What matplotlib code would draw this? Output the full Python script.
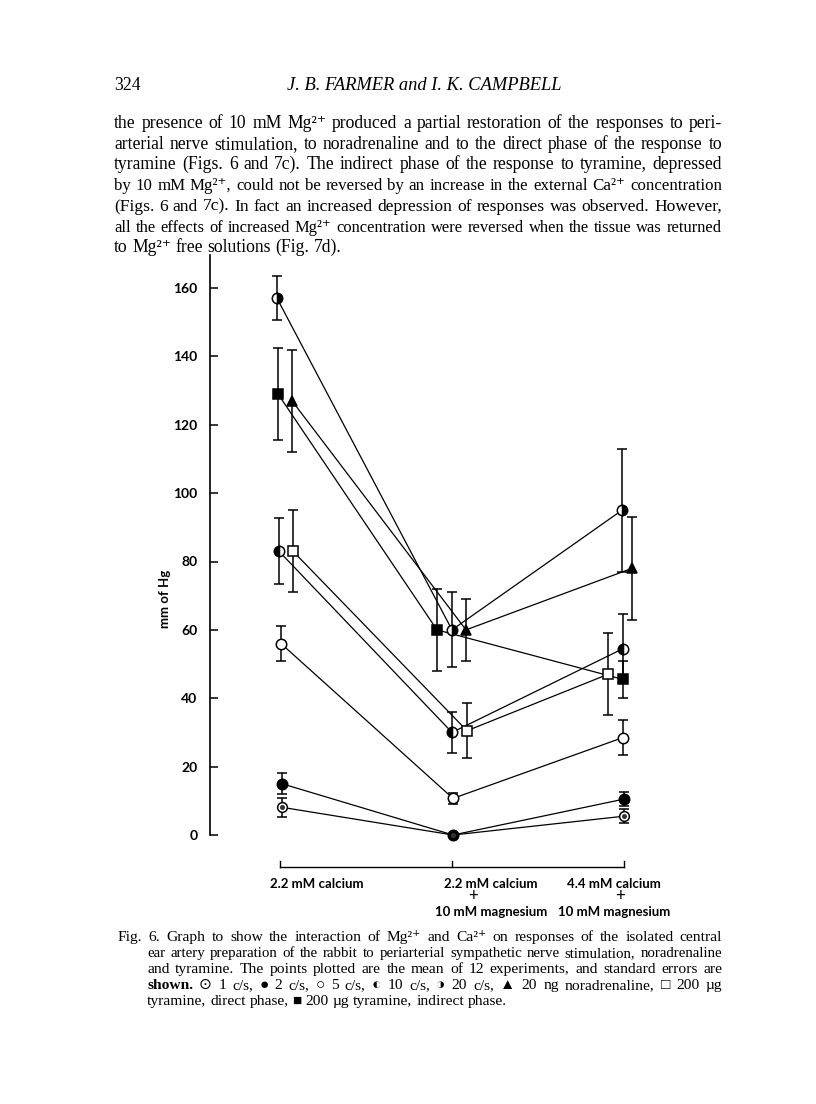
###############################################################################
# Fig. 6 page (Farmer & Campbell): Mg2+ / Ca2+ interaction on responses of the
# isolated ear artery, with the page text round it
###############################################################################
import numpy as np
import matplotlib
matplotlib.use('Agg')
import matplotlib.pyplot as plt

# ---- data (mm of Hg, mean and standard error) ---------------------------
conditions = ['2.2 mM calcium',
              '2.2 mM calcium\n+\n10 mM magnesium',
              '4.4 mM calcium\n+\n10 mM magnesium']
y_ticks = [0, 20, 40, 60, 80, 100, 120, 140, 160]

one_cs = [8.1, 0, 5.5]          # 1 c/s
one_cs_err = [2.8, 0, 2.0]
two_cs = [15.0, 0, 10.5]        # 2 c/s
two_cs_err = [3.0, 0, 2.0]
five_cs = [56.0, 10.7, 28.5]    # 5 c/s
five_cs_err = [5.0, 1.5, 5.0]
ten_cs = [83.0, 30.0, 54.5]     # 10 c/s
ten_cs_err = [9.7, 6.0, 10.0]
twenty_cs = [157.0, 60.0, 95.0]  # 20 c/s
twenty_cs_err = [6.5, 11.0, 18.0]
noradr = [127.0, 60.0, 78.0]    # 20 ng noradrenaline
noradr_err = [15.0, 9.0, 15.0]
tyr_direct = [83.0, 30.5, 47.0]  # 200 ug tyramine, direct phase
tyr_direct_err = [12.0, 8.0, 12.0]
tyr_indirect = [129.0, 60.0, 45.5]  # 200 ug tyramine, indirect phase
tyr_indirect_err = [13.5, 12.0, 5.5]

W, H = 816, 1104
PX_PER_GROUP = 172.0


def fx(px):
    return px / W


def fy(py):
    return 1 - py / H


fig = plt.figure(figsize=(W / 100, H / 100), dpi=100)
renderer = fig.canvas.get_renderer()

SERIF = ['Liberation Serif', 'DejaVu Serif']
SYMB = ['Liberation Serif', 'DejaVu Sans']
SANS = ['Lato', 'DejaVu Sans']


def natural_width(line, size, family):
    t = fig.text(0, 0, ' '.join(line.split()), fontsize=size, family=family)
    w = t.get_window_extent(renderer).width
    t.remove()
    return w


def fit_size(lines, width, family, base=10.0):
    # font size so that a normal-spaced line is about as wide as the column
    ratios = [width / natural_width(l, base, family) for l in lines]
    return base * float(np.median(ratios)) * 0.985


def text_line(line, x0, y, x1=None, size=11.5, family=SERIF, style='normal',
              bold_words=()):
    # draws one line word by word, stretched out to x1 when given (justified)
    if x1 is not None:
        # a line that is too long at this size gets a slightly smaller font
        size = min(size, size * (x1 - x0) / natural_width(line, size, family)
                   * 0.985)
    words = line.split()
    objs = []
    widths = []
    for w in words:
        t = fig.text(0, fy(y), w, fontsize=size, family=family, style=style,
                     weight='bold' if w in bold_words else 'normal',
                     va='baseline', ha='left')
        objs.append(t)
        widths.append(t.get_window_extent(renderer).width)
    if x1 is not None and len(words) > 1:
        gap = (x1 - x0 - sum(widths)) / (len(words) - 1)
    else:
        gap = size * 100 / 72 * 0.25
    x = x0
    for t, w in zip(objs, widths):
        t.set_x(fx(x))
        x += w + gap


# ---- page head and running text -----------------------------------------
LEFT, RIGHT = 114, 722
body = [
    'the presence of 10 mM Mg²⁺ produced a partial restoration of the responses to peri-',
    'arterial nerve stimulation, to noradrenaline and to the direct phase of the response to',
    'tyramine (Figs. 6 and 7c).  The indirect phase of the response to tyramine, depressed',
    'by 10 mM Mg²⁺, could not be reversed by an increase in the external Ca²⁺ concentration',
    '(Figs. 6 and 7c).  In fact an increased depression of responses was observed.  However,',
    'all the effects of increased Mg²⁺ concentration were reversed when the tissue was returned',
    'to Mg²⁺ free solutions (Fig. 7d).',
]
body_size = fit_size(body[:-1], RIGHT - LEFT, SERIF)

fig.text(fx(LEFT), fy(90), '324', fontsize=body_size, family=SERIF,
         va='baseline')
fig.text(fx(424), fy(90), 'J. B. FARMER and I. K. CAMPBELL',
         fontsize=body_size * 1.05, family=SERIF, style='italic',
         ha='center', va='baseline')

for i, line in enumerate(body):
    last = i == len(body) - 1
    text_line(line, LEFT, 128 + i * 20.7, None if last else RIGHT,
              size=body_size)

caption = [
    'Fig. 6.  Graph to show the interaction of Mg²⁺ and Ca²⁺ on responses of the isolated central',
    'ear artery preparation of the rabbit to periarterial sympathetic nerve stimulation, noradrenaline',
    'and tyramine.  The points plotted are the mean of 12 experiments, and standard errors are',
    'shown.  ⊙ 1 c/s, ● 2 c/s, ○ 5 c/s, ◐ 10 c/s, ◑ 20 c/s, ▲ 20 ng noradrenaline, □ 200 µg',
    'tyramine, direct phase, ■ 200 µg tyramine, indirect phase.',
]
cap_size = fit_size(caption[1:3], RIGHT - LEFT - 33, SYMB)
for i, line in enumerate(caption):
    x0 = LEFT + 4 if i == 0 else LEFT + 33
    last = i == len(caption) - 1
    text_line(line, x0, 941 + i * 16, None if last else RIGHT, size=cap_size,
              family=SYMB, bold_words=('shown.',))

# ---- chart ---------------------------------------------------------------
Y0_PX, Y160_PX = 835.0, 288.0
ppu = (Y0_PX - Y160_PX) / 160.0
ylo, yhi = -5, 170
ax_bottom = Y0_PX - ylo * ppu
ax_top = Y0_PX - yhi * ppu
G1_PX = 280.0
AX_L, AX_R = 210.0, 700.0
ax = fig.add_axes([fx(AX_L), fy(ax_bottom), (AX_R - AX_L) / W,
                   (ax_bottom - ax_top) / H])
ax.set_xlim((AX_L - G1_PX) / PX_PER_GROUP, (AX_R - G1_PX) / PX_PER_GROUP)
ax.set_ylim(ylo, yhi)
ax.patch.set_alpha(0)

groups = np.arange(len(conditions))

# sideways shift of each series inside a group (pixels)
series = [
    # values, errors, x shifts, marker style
    (twenty_cs, twenty_cs_err, [-3, 0, -2],
     dict(marker='o', fillstyle='right', markerfacecolor='black',
          markerfacecoloralt='white', ms=7.5)),
    (tyr_indirect, tyr_indirect_err, [-2, -15, -1],
     dict(marker='s', markerfacecolor='black', ms=7)),
    (noradr, noradr_err, [12, 14, 8],
     dict(marker='^', markerfacecolor='black', ms=7.5)),
    (ten_cs, ten_cs_err, [-1, 0, -1],
     dict(marker='o', fillstyle='left', markerfacecolor='black',
          markerfacecoloralt='white', ms=7.5)),
    (tyr_direct, tyr_direct_err, [13, 15, -16],
     dict(marker='s', markerfacecolor='white', ms=7)),
    (five_cs, five_cs_err, [1, 1, -1],
     dict(marker='o', markerfacecolor='white', ms=7.5)),
    (one_cs, one_cs_err, [2, 1, 0],
     dict(marker='o', markerfacecolor='white', ms=7)),
    (two_cs, two_cs_err, [2, 1, 0],
     dict(marker='o', markerfacecolor='black', ms=7.5)),
]

for vals, errs, shifts, style in series:
    xs = groups + np.array(shifts) / PX_PER_GROUP
    vals = np.array(vals)
    errs = np.array(errs)
    ax.plot(xs, vals, '-', color='black', lw=0.9, zorder=2, clip_on=False)
    keep = errs > 0
    ax.errorbar(xs[keep], vals[keep], yerr=errs[keep], fmt='none',
                ecolor='black', elinewidth=1.1, capsize=3.3, capthick=1.1,
                zorder=3, clip_on=False)
    ax.plot(xs, vals, linestyle='none', markeredgecolor='black',
            markeredgewidth=1.1, zorder=4, clip_on=False, **style)
    if style.get('ms') == 7 and style.get('marker') == 'o':
        # the dot in the middle of the 1 c/s circle
        ax.plot(xs, vals, linestyle='none', marker='o', ms=2.6,
                color='#333333', zorder=5, clip_on=False)

# axis: only the left one, with inward ticks
for side in ['top', 'right', 'bottom']:
    ax.spines[side].set_visible(False)
ax.spines['left'].set_bounds(0, (Y0_PX - 255) / ppu)
ax.spines['left'].set_linewidth(1.2)
ax.set_yticks(y_ticks)
ax.set_yticklabels([str(v) for v in y_ticks], fontsize=10, family=SANS,
                   weight='bold')
ax.tick_params(axis='y', direction='in', length=5.5, width=1.1, pad=9)
ax.set_xticks([])
fig.text(fx(165), fy(599), 'mm of Hg', rotation=90, fontsize=9.5,
         family=SANS, weight='bold', ha='center', va='center')

# bracket under the groups
yb = (Y0_PX - 867) / ppu
yt = (Y0_PX - 861) / ppu
ax.plot([groups[0], groups[-1]], [yb, yb], color='black', lw=1.0,
        clip_on=False)
for g in groups:
    ax.plot([g, g], [yb, yt], color='black', lw=1.0, clip_on=False)

# condition labels
label_x = [317, 491, 614]
for cx, lab in zip(label_x, conditions):
    parts = lab.split('\n')
    fig.text(fx(cx), fy(884), parts[0], fontsize=9.5, family=SANS,
             weight='bold', ha='center', va='center')
    if len(parts) > 1:
        fig.text(fx(cx - 18 if cx < 500 else cx + 6), fy(896), parts[1],
                 fontsize=12, family=SANS, ha='center', va='center')
        fig.text(fx(cx), fy(912), parts[2], fontsize=9.5, family=SANS,
                 weight='bold', ha='center', va='center')

plt.savefig('out.png', dpi=100)
